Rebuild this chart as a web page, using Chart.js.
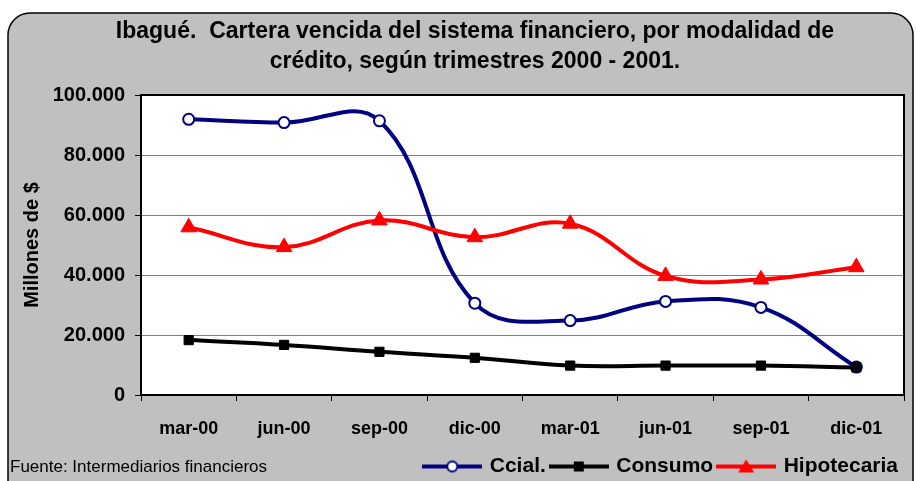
<!DOCTYPE html>
<html>
<head>
<meta charset="utf-8">
<title>Ibagué. Cartera vencida del sistema financiero</title>
<script src="https://cdn.jsdelivr.net/npm/chart.js"></script>
<style>
  html, body { margin: 0; padding: 0; background: #fff; }
  #wrap { width: 916px; height: 481px; }
</style>
</head>
<body>
<div id="wrap"><canvas id="carteraChart"></canvas></div>
<script>
// Datos (millones de $)
const trimestres = ['mar-00', 'jun-00', 'sep-00', 'dic-00', 'mar-01', 'jun-01', 'sep-01', 'dic-01'];
const ccial = [91900, 90800, 91400, 30600, 24800, 31200, 29200, 9300];
const consumo = [18300, 16700, 14400, 12400, 9800, 9800, 9800, 9200];
const hipotecaria = [55900, 49300, 58200, 52600, 57100, 39700, 38500, 42600];
const yTicks = [0, 20000, 40000, 60000, 80000, 100000];

const titulo = ['Ibagué.  Cartera vencida del sistema financiero, por modalidad de',
                'crédito, según trimestres 2000 - 2001.'];
const fuente = 'Fuente: Intermediarios financieros';

const FAMILIA = "'Liberation Sans', Arial, sans-serif";
Chart.defaults.font.family = FAMILIA;
Chart.defaults.color = '#000';

// 100000 -> "100.000"
function miles(v) {
    return String(v).replace(/\B(?=(\d{3})+(?!\d))/g, '.');
}

// símbolo de leyenda: línea con la marca en el centro
function simbolo(color, marca) {
    const c = document.createElement('canvas');
    c.width = 60; c.height = 16;
    const g = c.getContext('2d');
    g.strokeStyle = color;
    g.lineWidth = 4;
    g.beginPath(); g.moveTo(0, 8); g.lineTo(60, 8); g.stroke();
    marca(g, 30, 8);
    return c;
}
const simbolos = [
    simbolo('#000080', function (g, x, y) {
        g.beginPath(); g.arc(x, y, 5, 0, Math.PI * 2);
        g.fillStyle = '#fff'; g.fill();
        g.lineWidth = 2; g.strokeStyle = '#000080'; g.stroke();
    }),
    simbolo('#000', function (g, x, y) {
        g.fillStyle = '#000'; g.fillRect(x - 5, y - 5, 10, 10);
    }),
    simbolo('#ff0000', function (g, x, y) {
        g.fillStyle = '#ff0000';
        g.beginPath(); g.moveTo(x, y - 7); g.lineTo(x + 8, y + 6); g.lineTo(x - 8, y + 6); g.closePath(); g.fill();
    })
];

// fondo gris con borde redondeado, área blanca, título y fuente
const marco = {
    id: 'marco',
    beforeDraw(chart) {
        const ctx = chart.ctx, a = chart.chartArea;
        ctx.save();
        ctx.fillStyle = '#fff';
        ctx.fillRect(0, 0, chart.width, chart.height);
        ctx.beginPath();
        ctx.roundRect(8, 13, 905, 500, 22);
        ctx.fillStyle = '#c0c0c0';
        ctx.fill();
        ctx.lineWidth = 1.5;
        ctx.strokeStyle = '#000';
        ctx.stroke();
        ctx.fillStyle = '#fff';
        ctx.fillRect(a.left, a.top, a.right - a.left, a.bottom - a.top);
        ctx.restore();
    },
    afterDraw(chart) {
        const ctx = chart.ctx, a = chart.chartArea;
        ctx.save();
        ctx.strokeStyle = '#000';
        ctx.lineWidth = 2;
        ctx.strokeRect(a.left, a.top, a.right - a.left, a.bottom - a.top);
        ctx.fillStyle = '#000';
        ctx.textAlign = 'center';
        ctx.textBaseline = 'middle';
        ctx.font = 'bold 23px ' + FAMILIA;
        ctx.fillText(titulo[0], 475, 32);
        ctx.fillText(titulo[1], 475, 62);
        ctx.textAlign = 'left';
        ctx.font = '17px ' + FAMILIA;
        ctx.fillText(fuente, 10, 467);
        ctx.restore();
    }
};

new Chart(document.getElementById('carteraChart'), {
    type: 'line',
    data: {
        labels: trimestres,
        datasets: [{
            label: 'Ccial.',
            data: ccial,
            borderColor: '#000080',
            borderWidth: 4,
            pointStyle: 'circle',
            pointRadius: 5.5,
            pointBorderWidth: 2,
            pointBackgroundColor: '#fff',
            pointBorderColor: '#000080',
            tension: 0.4,
            order: 3
        }, {
            label: 'Consumo',
            data: consumo,
            borderColor: '#000',
            borderWidth: 4,
            pointStyle: 'rect',
            pointRadius: 6.5,
            pointBorderWidth: 1,
            pointBackgroundColor: '#000',
            pointBorderColor: '#000',
            tension: 0.4,
            order: 2
        }, {
            label: 'Hipotecaria',
            data: hipotecaria,
            borderColor: '#ff0000',
            borderWidth: 4,
            pointStyle: 'triangle',
            pointRadius: 9,
            pointBorderWidth: 1,
            pointBackgroundColor: '#ff0000',
            pointBorderColor: '#ff0000',
            tension: 0.4,
            order: 1
        }]
    },
    options: {
        responsive: true,
        maintainAspectRatio: false,
        animation: false,
        layout: { padding: { top: 95, right: 12, left: 0, bottom: -6 } },
        plugins: {
            title: { display: false },
            tooltip: { enabled: false },
            legend: {
                position: 'bottom',
                align: 'end',
                labels: {
                    usePointStyle: true,
                    pointStyleWidth: 54,
                    padding: 6,
                    color: '#000',
                    font: { size: 21, weight: 'bold' },
                    generateLabels(chart) {
                        const items = Chart.defaults.plugins.legend.labels.generateLabels(chart);
                        items.sort((x, y) => x.datasetIndex - y.datasetIndex);
                        items.forEach(it => { it.pointStyle = simbolos[it.datasetIndex]; });
                        return items;
                    }
                }
            }
        },
        scales: {
            x: {
                offset: true,
                afterFit(scale) { scale.height = 55; },
                grid: { display: true, offset: true, drawOnChartArea: false, tickLength: 6, tickColor: '#000' },
                border: { color: '#000', width: 2 },
                ticks: { padding: 17, maxRotation: 0, font: { size: 18, weight: 'bold' } }
            },
            y: {
                min: 0,
                max: 100000,
                afterFit(scale) { scale.width = 141; },
                afterBuildTicks(scale) { scale.ticks = yTicks.map(v => ({ value: v })); },
                grid: { color: '#808080', tickLength: 6, tickColor: '#000' },
                border: { color: '#000', width: 2 },
                ticks: {
                    padding: 10,
                    font: { size: 20, weight: 'bold' },
                    callback: v => miles(v)
                },
                title: {
                    display: true,
                    text: 'Millones de $',
                    padding: { top: 20, bottom: 0 },
                    font: { size: 20, weight: 'bold' }
                }
            }
        }
    },
    plugins: [marco]
});
</script>
</body>
</html>
